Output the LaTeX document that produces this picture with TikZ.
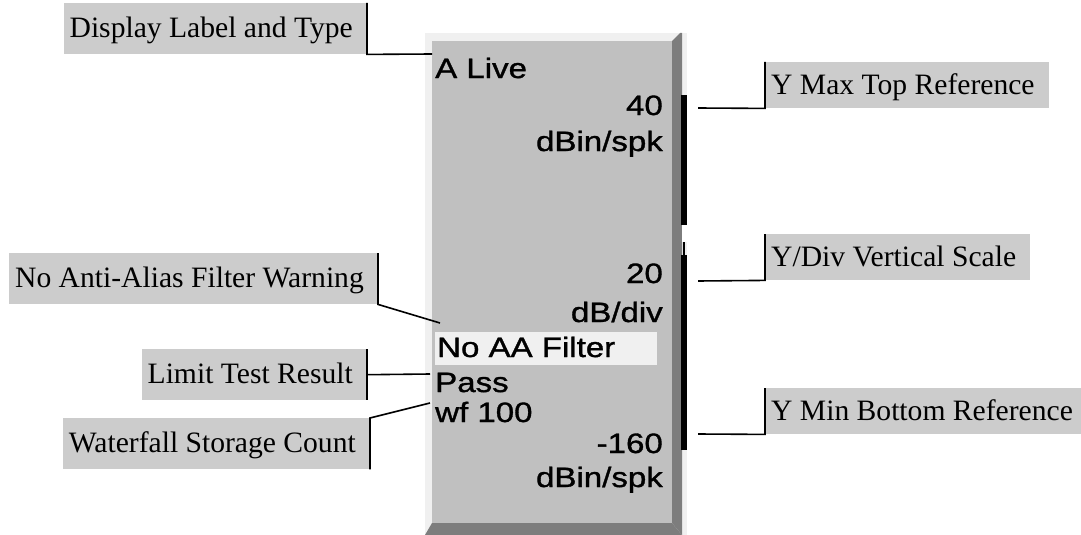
\documentclass[tikz,border=0pt]{standalone}
\usepackage{fontspec}
\setmainfont{Liberation Serif}
\newfontfamily\panelfont[FakeStretch=1.18,FakeBold=1.2]{Liberation Sans}
\usetikzlibrary{positioning,calc}
\definecolor{calloutgray}{RGB}{204,204,204}
\definecolor{panelface}{RGB}{192,192,192}
\definecolor{bevellight}{RGB}{240,240,240}
\definecolor{beveldark}{RGB}{125,125,125}
\tikzstyle{callout}=[rectangle,
                     fill=calloutgray,
                     inner xsep=6pt,
                     inner ysep=0pt,
                     minimum height=51pt,
                     text height=22pt,
                     text depth=4pt,
                     font=\fontsize{29.6}{34}\selectfont]
\tikzstyle{readout}=[inner sep=0pt, font=\panelfont\fontsize{28}{32}\selectfont]
\tikzstyle{leader}=[draw, line width=1.6pt]

\begin{document}
\begin{tikzpicture}[x=1pt,y=-1pt]
      \useasboundingbox (0,0) rectangle (1081,535);

      % display panel with bevels
      \fill[bevellight] (425,33) rectangle (687,535);
      \fill[panelface] (432,41) rectangle (672,523);
      \fill[beveldark] (672,41) -- (680,33) -- (682,33) -- (682,535) -- (672,523) -- cycle;
      \fill[beveldark] (425,535) -- (432,523) -- (672,523) -- (682,535) -- cycle;
      \fill[black] (681,95) rectangle (687,225);
      \fill[white] (682,225) rectangle (687,242);
      \fill[black] (683,242) rectangle (685,255);
      \fill[black] (681,255) rectangle (687,450);
      \fill[bevellight] (435,332) rectangle (657,365);

      % readouts
      \node [readout, anchor=base west] (alive) at (435,78) {A Live};
      \node [readout, anchor=base east] (topval) at (663,115) {40};
      \node [readout, anchor=base east] (topunit) at (663,151) {dBin/spk};
      \node [readout, anchor=base east] (divval) at (663,283) {20};
      \node [readout, anchor=base east] (divunit) at (663,322) {dB/div};
      \node [readout, anchor=base west] (noaa) at (437,357) {No AA Filter};
      \node [readout, anchor=base west] (pass) at (435,392) {Pass};
      \node [readout, anchor=base west] (wfcount) at (435,422) {wf 100};
      \node [readout, anchor=base east] (botval) at (663,453) {-160};
      \node [readout, anchor=base east] (botunit) at (663,487) {dBin/spk};

      % callouts
      \node [callout, anchor=north east] (dlt) at (367,3) {Display Label and Type\hspace*{8pt}};
      \node [callout, anchor=north east] (naa) at (378,253) {No Anti-Alias Filter Warning\hspace*{8pt}};
      \node [callout, anchor=north east] (ltr) at (367,349) {Limit Test Result\hspace*{8pt}};
      \node [callout, anchor=north east] (wsc) at (370,418) {Waterfall Storage Count\hspace*{8pt}};
      \node [callout, anchor=north west, minimum height=46pt] (ymax) at (765,62) {Y Max Top Reference\hspace*{8pt}};
      \node [callout, anchor=north west, minimum height=46pt] (ydiv) at (765,234) {Y/Div Vertical Scale\hspace*{8pt}};
      \node [callout, anchor=north west, minimum height=46pt] (ymin) at (765,388) {Y Min Bottom Reference\hspace*{8pt}};

      \coordinate (dlt-end) at (432,54);
      \coordinate (naa-end) at (440,323);
      \coordinate (ltr-end) at (430,374);
      \coordinate (wsc-end) at (430,403);
      \coordinate (ymax-end) at (698,108);
      \coordinate (ydiv-end) at (698,281);
      \coordinate (ymin-end) at (698,434);

      \draw [leader] (dlt.north east) -- (dlt.south east) -- (dlt-end);
      \draw [leader] (naa.north east) -- (naa.south east) -- (naa-end);
      \draw [leader] (ltr.north east) -- (ltr.south east);
      \draw [leader] (ltr.east) -- (ltr-end);
      \draw [leader] (wsc.south east) -- (wsc.north east) -- (wsc-end);
      \draw [leader] (ymax.north west) -- (ymax.south west) -- (ymax-end);
      \draw [leader] (ydiv.north west) -- (ydiv.south west) -- (ydiv-end);
      \draw [leader] (ymin.north west) -- (ymin.south west) -- (ymin-end);
\end{tikzpicture}
\end{document}
